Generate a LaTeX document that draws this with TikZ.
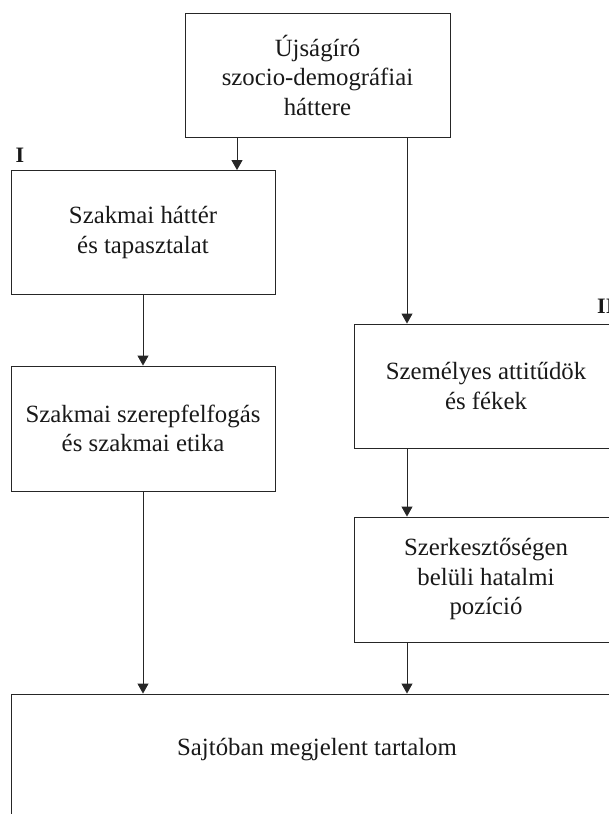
\documentclass[tikz,border=0pt]{standalone}
\usepackage{fontspec}
\setmainfont{Liberation Serif}
\usetikzlibrary{arrows.meta}
\tikzset{
  box/.style={draw=black!85, line width=0.9pt, minimum width=264pt, minimum height=124pt,
    inner sep=0pt, align=center, text=black!90,
    font=\fontsize{24.8pt}{29.5pt}\selectfont},
  arr/.style={draw=black!85, line width=0.9pt, -{Triangle[length=10pt,width=11pt]}},
  lbl/.style={font=\fontsize{22pt}{26pt}\selectfont\bfseries, text=black!90, inner sep=0pt}
}
\begin{document}
\begin{tikzpicture}[x=1pt,y=-1pt]
\clip (0,0) rectangle (609,814);
% boxes
\node[box, minimum width=265pt] (top) at (317.5,75) {Újságíró\\szocio-demográfiai\\háttere};
\node[box] (sz1) at (143,232.5) {Szakmai háttér\\és tapasztalat};
\node[box, minimum height=125pt] (sz2) at (143,428.5) {Szakmai szerepfelfogás\\és szakmai etika};
\node[box] (sze) at (486,386) {Személyes attitűdök\\és fékek};
\node[box, minimum height=125pt] (szk) at (486,579.5) {Szerkesztőségen\\belüli hatalmi\\pozíció};
\node[box, minimum width=612pt, minimum height=140pt] (out) at (317,764) {};
\node[font=\fontsize{24.8pt}{29.5pt}\selectfont, text=black!90] (outt) at (317,750) {Sajtóban megjelent tartalom};
% labels
\node[lbl] (l1) at (20,155) {I};
\node[lbl, anchor=west] (l2) at (597,306) {II};
% arrow x positions
\coordinate (a1) at (237,0);
\coordinate (a2) at (407,0);
% connectors
\draw[arr] (top.south -| a1) -- (sz1.north -| a1);
\draw[arr] (top.south -| a2) -- (sze.north -| a2);
\draw[arr] (sz1.south) -- (sz2.north);
\draw[arr] (sze.south -| a2) -- (szk.north -| a2);
\draw[arr] (sz2.south) -- (sz2.south |- out.north);
\draw[arr] (szk.south -| a2) -- (out.north -| a2);
\end{tikzpicture}
\end{document}
